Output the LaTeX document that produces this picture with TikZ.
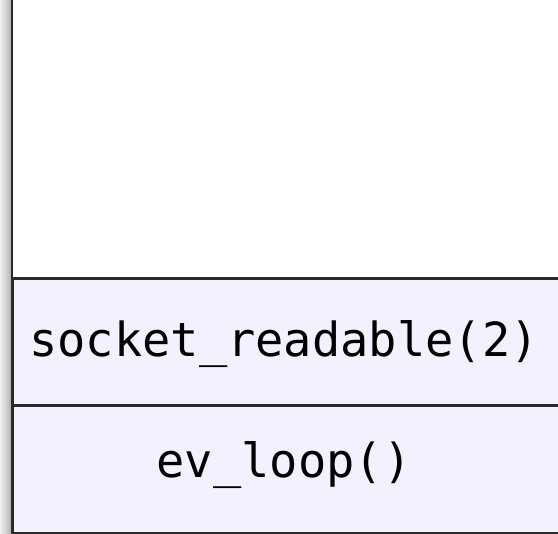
\documentclass[tikz,border=0pt]{standalone}
\usepackage{fontspec}
\newfontfamily\monofont{DejaVu Sans Mono}
\definecolor{framefill}{HTML}{F2F2FF}
\definecolor{edge}{HTML}{2A2A2A}
\begin{document}
\begin{tikzpicture}[x=1pt,y=-1pt,
  frame/.style={fill=framefill, draw=edge, line width=2.2pt},
  label/.style={font=\monofont\fontsize{47}{47}\selectfont, text=black, inner sep=0pt, anchor=base}]
\useasboundingbox (0,0) rectangle (558,534);
% shaded strip on the left
\shade[left color=black!5, right color=black!30] (0,0) rectangle (11,534);
% stack frames
\path[frame] (12.5,278.5) rectangle (570,405.5);
\path[frame] (12.5,405.5) rectangle (570,533);
% left edge of the stack
\draw[edge, line width=2.4pt] (12,0) -- (12,534);
\node[label] (top) at (284,357) {socket\_readable(2)};
\node[label] (bot) at (284,478) {ev\_loop()};
\end{tikzpicture}
\end{document}
